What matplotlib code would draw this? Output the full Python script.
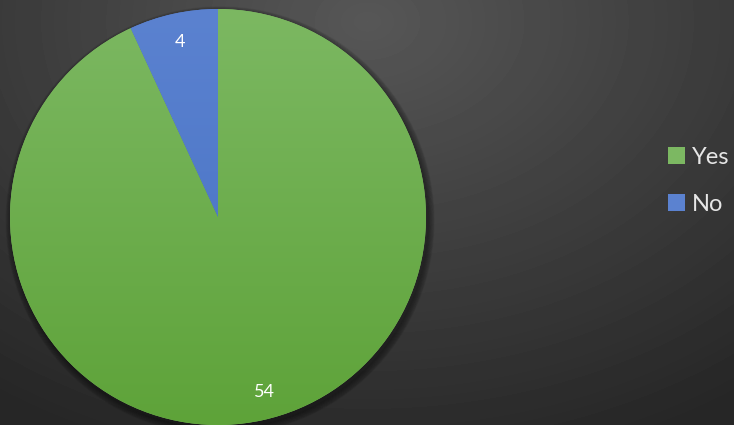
import numpy as np
import matplotlib.pyplot as plt
from matplotlib.colors import LinearSegmentedColormap

labels = ["Yes", "No"]
values = [54, 4]
top_colors = ["#7cb862", "#5b82d0"]
bottom_colors = ["#5ea339", "#4470c2"]

W, H = 734, 425
fig = plt.figure(figsize=(W / 100, H / 100), dpi=100)

# radial background
bg = fig.add_axes([0, 0, 1, 1])
yy, xx = np.mgrid[0:H, 0:W]
r = np.hypot((xx - W * 0.5) / W, (yy - H * 0.05) / H * 0.8)
shade = np.clip(0.34 - 0.22 * r, 0.15, 0.34)
bg.imshow(shade, cmap="gray", vmin=0, vmax=1, extent=[0, W, H, 0], aspect="auto")
bg.set_xlim(0, W)
bg.set_ylim(H, 0)
bg.axis("off")

# pie axes: centre at (218, 217), radius ~208 px
cx, cy, rad = 218, 217, 208
ax = fig.add_axes([(cx - rad) / W, (H - cy - rad) / H, 2 * rad / W, 2 * rad / H])
ax.set_xlim(-1, 1)
ax.set_ylim(-1, 1)
ax.axis("off")

# soft shadow
for k in range(8):
    sh = plt.Circle((0.01, -0.018), 1.0 + 0.004 * k, color="black", alpha=0.05,
                    zorder=0, clip_on=False)
    ax.add_patch(sh)

wedges, texts, autotexts = ax.pie(values, startangle=90, counterclock=False,
                                  colors=top_colors, radius=1.0,
                                  autopct=lambda p: "%d" % round(p * sum(values) / 100),
                                  pctdistance=0.86,
                                  wedgeprops=dict(linewidth=0),
                                  textprops=dict(color="white", fontsize=13, family="Lato"))
for t in texts:
    t.set_text("")

# vertical gradients inside each wedge
grad = np.linspace(0, 1, 256).reshape(-1, 1)
for w, c1, c2 in zip(wedges, top_colors, bottom_colors):
    cmap = LinearSegmentedColormap.from_list("g", [c1, c2])
    im = ax.imshow(grad, cmap=cmap, extent=[-1, 1, -1, 1], origin="upper",
                   aspect="auto", zorder=1.5)
    im.set_clip_path(w)
for t in autotexts:
    t.set_zorder(3)
# nudge the big label like the original
autotexts[0].set_x(autotexts[0].get_position()[0] + 0.04)

ax.set_xlim(-1, 1)
ax.set_ylim(-1, 1)

# legend
fig.legend(wedges, labels, loc="center left", bbox_to_anchor=(647 / W, 1 - 181 / H),
           frameon=False, labelcolor="#e6e6e6", handlelength=0.7,
           handleheight=0.7, handletextpad=0.3, labelspacing=1.1,
           prop=dict(family="Lato", size=17))

fig.savefig("out.png", dpi=100)
